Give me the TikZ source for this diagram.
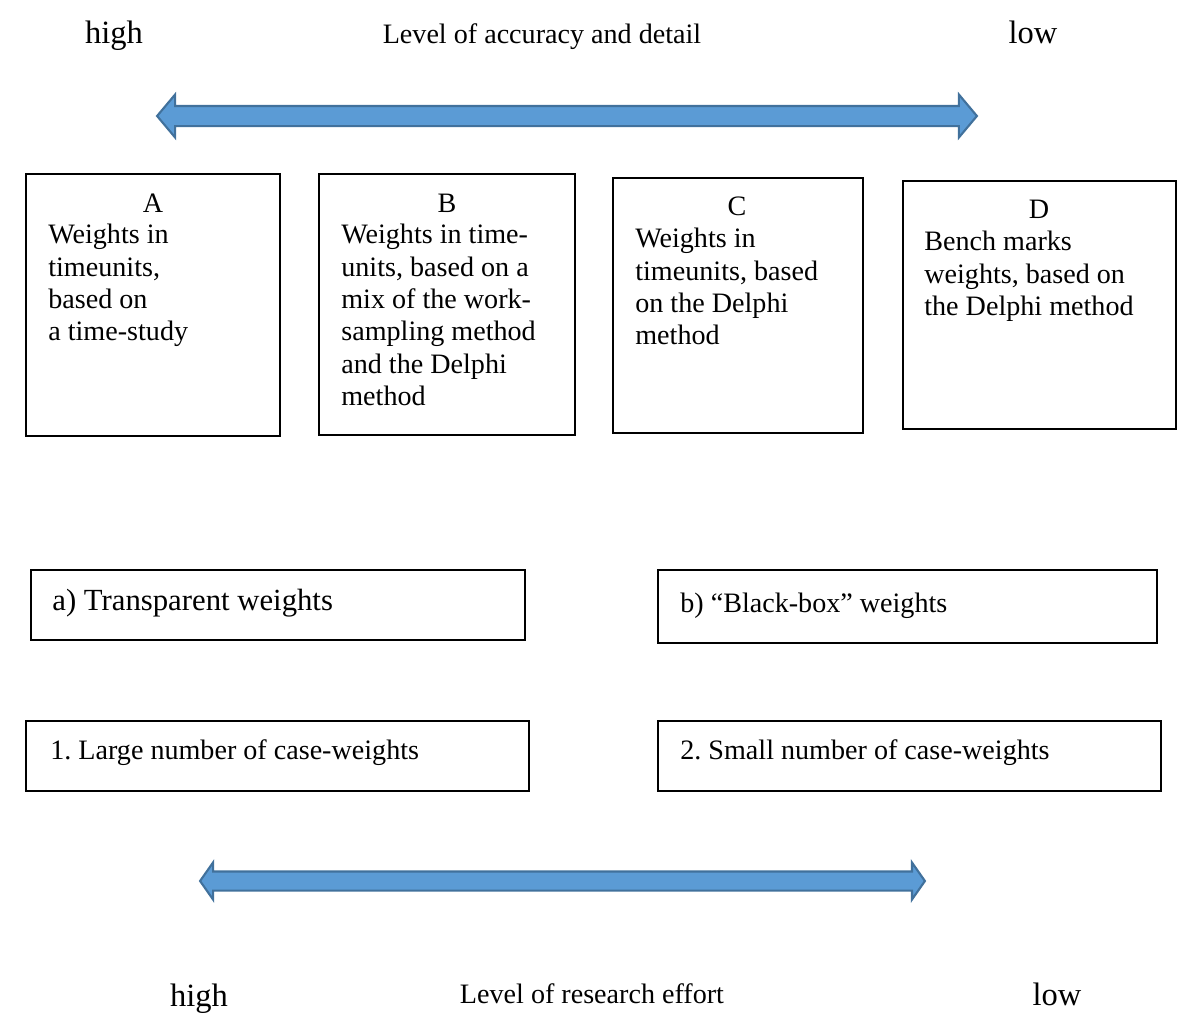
\documentclass[tikz,border=0pt]{standalone}
\usepackage{fontspec}
\setmainfont{Liberation Serif}
\usepackage{xcolor}
\usepackage{tikz}
\usetikzlibrary{shapes,shapes.arrows,positioning,calc}
\definecolor{scalefill}{RGB}{91,155,213}
\definecolor{scaleline}{RGB}{65,113,156}
\frenchspacing

\begin{document}
\begin{tikzpicture}[
    x=0.02cm, y=-0.02cm,
    box/.style={draw, line width=1pt, inner sep=0pt},
    body/.style={anchor=north west, align=left, inner sep=0pt, font=\fontsize{16}{18.4}\selectfont},
    letter/.style={inner sep=0pt, font=\fontsize{16}{18.4}\selectfont},
    rowtext/.style={anchor=west, inner sep=0pt, font=\fontsize{16}{18.4}\selectfont},
    scalearrow/.style={double arrow, draw=scaleline, fill=scalefill, line width=1.2pt, inner xsep=0pt},
    ends/.style={anchor=base, inner sep=0pt, font=\fontsize{18.5}{22}\selectfont},
    title/.style={inner sep=0pt, font=\fontsize{16}{19}\selectfont}
]
    \useasboundingbox (0,0) rectangle (1200,1025);

    % Accuracy scale
    \node[ends] (acchigh) at (114,43) {high};
    \node[title] (acctitle) at (542,37) {Level of accuracy and detail};
    \node[ends] (acclow) at (1033,43) {low};
    \node[scalearrow, minimum height=16.4cm, inner ysep=0.18cm,
          double arrow head extend=0.23cm, double arrow tip angle=100] (accarrow) at (567,116) {};

    % Methods A to D
    \node[box, minimum width=5.08cm, minimum height=5.24cm] (boxA) at (153,305) {};
    \node[box, minimum width=5.12cm, minimum height=5.22cm] (boxB) at (447,304.5) {};
    \node[box, minimum width=5.00cm, minimum height=5.10cm] (boxC) at (738,305.5) {};
    \node[box, minimum width=5.46cm, minimum height=4.96cm] (boxD) at (1039.5,305) {};

    \node[letter] (tA) at (153,203) {A};
    \node[letter] (tB) at (447,203) {B};
    \node[letter] (tC) at (737,206) {C};
    \node[letter] (tD) at (1039,209) {D};

    \node[body] (textA) at (48,224) {Weights in\\timeunits,\\based on\\a time-study};
    \node[body] (textB) at (341,224) {Weights in time-\\units, based on a\\mix of the work-\\sampling method\\and the Delphi\\method};
    \node[body] (textC) at (635,228) {Weights in\\timeunits, based\\on the Delphi\\method};
    \node[body] (textD) at (924,231) {Bench marks\\weights, based on\\the Delphi method};

    % Kind of weights
    \node[box, minimum width=9.88cm, minimum height=1.40cm] (transp) at (278,605) {};
    \node[box, minimum width=9.98cm, minimum height=1.46cm] (blackbox) at (907.5,606.5) {};
    \node[rowtext, font=\fontsize{17.5}{21}\selectfont] (ttransp) at (52,603) {a) Transparent weights};
    \node[rowtext] (tblackbox) at (680,606) {b) “Black-box” weights};

    % Number of case-weights
    \node[box, minimum width=10.06cm, minimum height=1.40cm] (large) at (277.5,756) {};
    \node[box, minimum width=10.06cm, minimum height=1.40cm] (small) at (909.5,756) {};
    \node[rowtext] (tlarge) at (50,753) {1. Large number of case-weights};
    \node[rowtext] (tsmall) at (680,753) {2. Small number of case-weights};

    % Effort scale
    \node[scalearrow, minimum height=14.5cm, inner ysep=0.17cm,
          double arrow head extend=0.18cm, double arrow tip angle=110] (effarrow) at (562.5,881) {};
    \node[ends] (effhigh) at (199,1006) {high};
    \node[title] (efftitle) at (592,994) {Level of research effort};
    \node[ends] (efflow) at (1057,1005) {low};
\end{tikzpicture}
\end{document}
